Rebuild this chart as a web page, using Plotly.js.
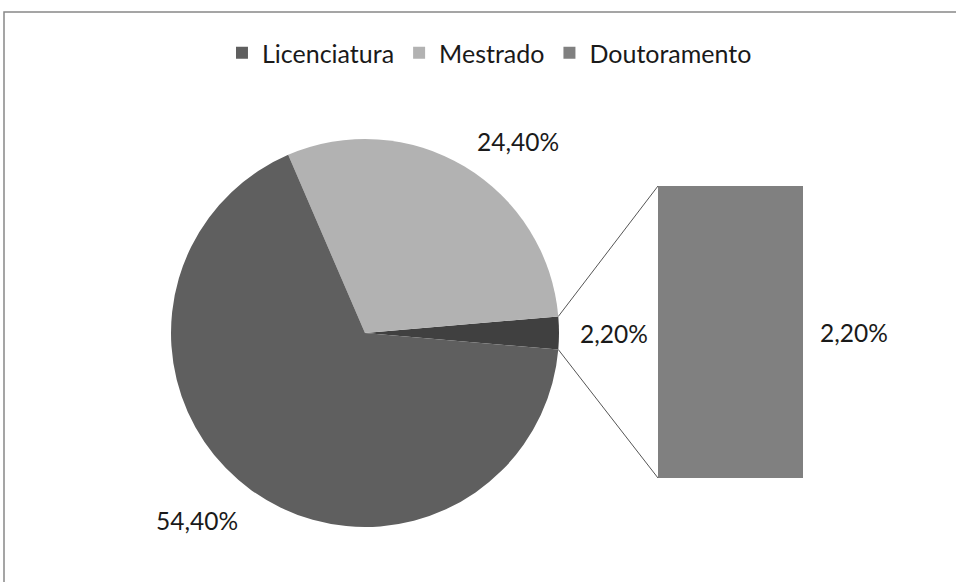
<!DOCTYPE html>
<html>
<head>
<meta charset="utf-8">
<script src="https://cdn.plot.ly/plotly-3.0.1.min.js"></script>
<style>html,body{margin:0;padding:0;background:#fff}#chart{width:956px;height:582px}</style>
</head>
<body>
<div id="chart"></div>
<script>
// Data
const categories = ['Licenciatura', 'Mestrado', 'Doutoramento'];
const values = [54.4, 24.4, 2.2];
const legendColors = ['#5f5f5f', '#b2b2b2', '#808080'];
// pie slices (the small slice groups Doutoramento)
const pieLabels = ['Doutoramento (grupo)', 'Mestrado', 'Licenciatura'];
const pieValues = [2.2, 24.4, 54.4];
const pieColors = ['#404040', '#b2b2b2', '#5f5f5f'];
const barValues = [2.2];

const W = 956, H = 582;
const fmt = v => v.toFixed(2).replace('.', ',') + '%';
const fontFam = 'Lato, "Noto Sans", sans-serif';

// pie geometry (paper)
const cx = 365, cy = 333, r = 194;
const pieDomX = [(cx - r) / W, (cx + r) / W];
const pieDomY = [1 - (cy + r) / H, 1 - (cy - r) / H];
const total = pieValues.reduce((a, b) => a + b, 0);
const halfSmall = pieValues[0] / total * 360 / 2; // degrees
// small slice centred on the horizontal, opening towards the bar
const rotation = 90 - halfSmall;

// bar geometry
const barDomX = [658 / W, 803 / W];
const barDomY = [1 - 478 / H, 1 - 186 / H];

function piePt(angDeg) {
  const a = angDeg * Math.PI / 180;
  return [(cx + r * Math.cos(a)) / W, 1 - (cy - r * Math.sin(a)) / H];
}
const up = piePt(halfSmall), lo = piePt(-halfSmall);

const traces = [
  {
    type: 'pie', labels: pieLabels, values: pieValues, sort: false,
    direction: 'counterclockwise', rotation: rotation,
    marker: {colors: pieColors, line: {width: 0}},
    textinfo: 'none', hoverinfo: 'label+value', showlegend: false,
    domain: {x: pieDomX, y: pieDomY}
  },
  {type: 'bar', x: [0], y: [0], name: categories[0], marker: {color: legendColors[0]}, xaxis: 'x2', yaxis: 'y2'},
  {type: 'bar', x: [0], y: [0], name: categories[1], marker: {color: legendColors[1]}, xaxis: 'x2', yaxis: 'y2'},
  {type: 'bar', x: [0], y: barValues, name: categories[2], width: 1, marker: {color: legendColors[2], line: {width: 0}}, xaxis: 'x', yaxis: 'y'}
];

const hiddenAx = {visible: false, showgrid: false, zeroline: false, fixedrange: true};
const layout = {
  width: W, height: H,
  margin: {l: 0, r: 0, t: 0, b: 0},
  paper_bgcolor: '#fff', plot_bgcolor: 'rgba(0,0,0,0)',
  font: {family: fontFam, size: 24.5, color: '#1a1a1a'},
  barmode: 'overlay',
  xaxis: Object.assign({domain: barDomX, range: [-0.5, 0.5]}, hiddenAx),
  yaxis: Object.assign({domain: barDomY, range: [0, barValues[0]]}, hiddenAx),
  xaxis2: Object.assign({domain: [0, 0.01], range: [0, 1]}, hiddenAx),
  yaxis2: Object.assign({domain: [0, 0.01], range: [0, 1]}, hiddenAx),
  showlegend: true,
  legend: {orientation: 'h', x: 0.512, xanchor: 'center', y: 1 - 53 / H, yanchor: 'middle',
           font: {family: fontFam, size: 25, color: '#1a1a1a'}, bgcolor: 'rgba(0,0,0,0)'},
  shapes: [
    {type: 'rect', xref: 'paper', yref: 'paper', x0: 4 / W, x1: 1.02, y0: -0.02, y1: 1 - 12 / H,
     line: {color: '#888888', width: 1.5}, fillcolor: 'rgba(0,0,0,0)'},
    {type: 'line', xref: 'paper', yref: 'paper', x0: up[0], y0: up[1], x1: barDomX[0], y1: barDomY[1],
     line: {color: '#555555', width: 1}},
    {type: 'line', xref: 'paper', yref: 'paper', x0: lo[0], y0: lo[1], x1: barDomX[0], y1: barDomY[0],
     line: {color: '#555555', width: 1}}
  ],
  annotations: [
    {xref: 'paper', yref: 'paper', x: 518 / W, y: 1 - 141 / H, text: fmt(values[1]), showarrow: false, xanchor: 'center', yanchor: 'middle'},
    {xref: 'paper', yref: 'paper', x: 197 / W, y: 1 - 520 / H, text: fmt(values[0]), showarrow: false, xanchor: 'center', yanchor: 'middle'},
    {xref: 'paper', yref: 'paper', x: 578 / W, y: 1 - cy / H, text: fmt(pieValues[0]), showarrow: false, xanchor: 'left', yanchor: 'middle'},
    {xref: 'x', yref: 'y', x: 0.5, y: barValues[0] / 2, xshift: 15, text: fmt(barValues[0]), showarrow: false, xanchor: 'left', yanchor: 'middle'}
  ]
};

Plotly.newPlot('chart', traces, layout, {displayModeBar: false, staticPlot: true});
</script>
</body>
</html>
